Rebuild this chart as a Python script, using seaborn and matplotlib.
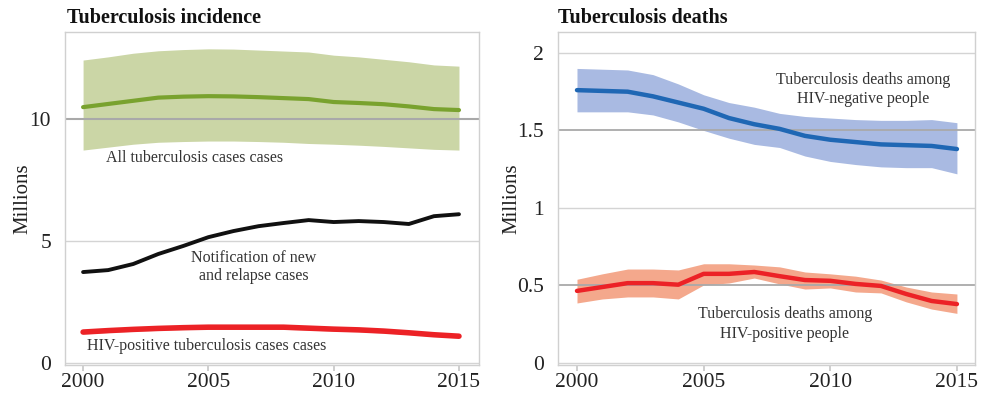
import numpy as np
import pandas as pd
import matplotlib
matplotlib.use("Agg")
import matplotlib.pyplot as plt
import seaborn as sns

years = list(range(2000, 2016))

# Incidence (millions)
all_tb = [10.49, 10.62, 10.75, 10.88, 10.92, 10.94, 10.93, 10.9, 10.86, 10.82, 10.7, 10.66, 10.61, 10.52, 10.41, 10.37]
all_tb_hi = [12.42, 12.55, 12.7, 12.8, 12.85, 12.88, 12.87, 12.83, 12.79, 12.75, 12.62, 12.55, 12.45, 12.35, 12.22, 12.17]
all_tb_lo = [8.73, 8.85, 8.97, 9.05, 9.08, 9.1, 9.1, 9.08, 9.05, 9.0, 8.97, 8.93, 8.88, 8.82, 8.76, 8.73]
notified = [3.73, 3.81, 4.06, 4.47, 4.8, 5.16, 5.41, 5.61, 5.74, 5.86, 5.78, 5.82, 5.78, 5.7, 6.02, 6.1]
hiv_tb = [1.27, 1.33, 1.38, 1.42, 1.45, 1.47, 1.47, 1.47, 1.47, 1.43, 1.39, 1.36, 1.31, 1.24, 1.16, 1.1]
hiv_tb_hi = [1.35, 1.41, 1.46, 1.5, 1.53, 1.55, 1.55, 1.55, 1.56, 1.51, 1.47, 1.44, 1.39, 1.31, 1.23, 1.17]
hiv_tb_lo = [1.19, 1.25, 1.3, 1.34, 1.37, 1.39, 1.39, 1.39, 1.38, 1.35, 1.31, 1.28, 1.23, 1.17, 1.09, 1.03]

# Deaths (millions)
neg = [1.76, 1.755, 1.75, 1.72, 1.68, 1.64, 1.58, 1.54, 1.51, 1.465, 1.44, 1.425, 1.41, 1.405, 1.40, 1.38]
neg_hi = [1.9, 1.895, 1.89, 1.86, 1.8, 1.73, 1.68, 1.65, 1.61, 1.59, 1.58, 1.57, 1.565, 1.565, 1.57, 1.55]
neg_lo = [1.62, 1.62, 1.62, 1.6, 1.555, 1.5, 1.45, 1.41, 1.39, 1.335, 1.3, 1.28, 1.265, 1.26, 1.26, 1.22]
pos = [0.465, 0.49, 0.515, 0.515, 0.505, 0.575, 0.575, 0.587, 0.56, 0.535, 0.53, 0.51, 0.497, 0.445, 0.4, 0.38]
pos_hi = [0.54, 0.575, 0.606, 0.606, 0.6, 0.64, 0.64, 0.632, 0.62, 0.587, 0.575, 0.56, 0.535, 0.49, 0.458, 0.445]
pos_lo = [0.387, 0.413, 0.426, 0.426, 0.413, 0.503, 0.516, 0.548, 0.51, 0.477, 0.484, 0.458, 0.452, 0.394, 0.348, 0.32]

xticks = [2000, 2005, 2010, 2015]
yticks_left = [0, 5, 10]
yticks_right = [0, 0.5, 1, 1.5, 2]
ytick_labels_right = ["0", "0.5", "1", "1.5", "2"]

sns.set_theme(style="white")
plt.rcParams['font.family'] = ['Liberation Serif', 'DejaVu Serif']

df = pd.DataFrame({"year": years, "all": all_tb, "notified": notified, "hiv": hiv_tb,
                   "neg": neg, "pos": pos})

fig = plt.figure(figsize=(9.81, 4.0), dpi=100)
axL = fig.add_axes([0.0663, 0.0875, 0.422, 0.8325])
axR = fig.add_axes([0.5688, 0.0875, 0.425, 0.8325])

grid_light = "#d4d4d4"
grid_dark = "#a9a9a9"
txt = "#333333"
fs_note = 11.5

def style(ax):
    for s in ax.spines.values():
        s.set_color("#d0d0d0")
        s.set_linewidth(1.0)
    ax.tick_params(axis="x", bottom=True, length=4, color="#c8c8c8", labelsize=15.5, pad=2, labelcolor="#222222")
    ax.tick_params(axis="y", left=False, labelsize=15.5, pad=4, labelcolor="#222222")
    ax.set_xlabel("")

# Left panel
axL.fill_between(years, all_tb_lo, all_tb_hi, color="#cbd6a6", lw=0, zorder=1)
axL.fill_between(years, hiv_tb_lo, hiv_tb_hi, color="#f4a99a", alpha=0.7, lw=0, zorder=1)
for y, c in [(5, grid_light), (0, grid_light)]:
    axL.axhline(y, color=c, lw=1.0, zorder=2)
axL.axhline(10, color=grid_dark, lw=1.5, zorder=2)
sns.lineplot(data=df, x="year", y="all", ax=axL, color="#79a22e", lw=3, zorder=3)
sns.lineplot(data=df, x="year", y="notified", ax=axL, color="#111111", lw=2.8, zorder=3)
sns.lineplot(data=df, x="year", y="hiv", ax=axL, color="#ec2226", lw=4, zorder=3)
axL.set_xlim(1999.28, 2015.8)
axL.set_ylim(-0.08, 13.57)
axL.set_xticks(xticks)
axL.set_yticks(yticks_left)
axL.set_ylabel("Millions", fontsize=15, color="#222222", labelpad=-2)
style(axL)
axL.text(2000.9, 8.4, "All tuberculosis cases cases", fontsize=fs_note, color=txt, va="center", ha="left")
axL.text(2006.8, 4.32, "Notification of new", fontsize=fs_note, color=txt, va="center", ha="center")
axL.text(2006.8, 3.55, "and relapse cases", fontsize=fs_note, color=txt, va="center", ha="center")
axL.text(2000.15, 0.7, "HIV-positive tuberculosis cases cases", fontsize=fs_note, color=txt, va="center", ha="left")
fig.text(0.0683, 0.955, "Tuberculosis incidence", fontsize=14.5, fontweight="bold", color="#111111", va="center", ha="left")

# Right panel
axR.fill_between(years, neg_lo, neg_hi, color="#a9bae2", lw=0, zorder=1)
axR.fill_between(years, pos_lo, pos_hi, color="#f4a88c", lw=0, zorder=1)
for y in [2, 1, 0]:
    axR.axhline(y, color=grid_light, lw=1.0, zorder=2)
for y in [1.5, 0.5]:
    axR.axhline(y, color=grid_dark, lw=1.3, zorder=2)
sns.lineplot(data=df, x="year", y="neg", ax=axR, color="#1f67b4", lw=3.2, zorder=3)
sns.lineplot(data=df, x="year", y="pos", ax=axR, color="#ec2226", lw=3.2, zorder=3)
axR.set_xlim(1999.25, 2015.71)
axR.set_ylim(-0.013, 2.135)
axR.set_xticks(xticks)
axR.set_yticks(yticks_right)
axR.set_yticklabels(ytick_labels_right)
axR.set_ylabel("Millions", fontsize=15, color="#222222", labelpad=-3)
style(axR)
axR.text(2011.3, 1.826, "Tuberculosis deaths among", fontsize=fs_note, color=txt, va="center", ha="center")
axR.text(2011.3, 1.70, "HIV-negative people", fontsize=fs_note, color=txt, va="center", ha="center")
axR.text(2008.2, 0.316, "Tuberculosis deaths among", fontsize=fs_note, color=txt, va="center", ha="center")
axR.text(2008.2, 0.19, "HIV-positive people", fontsize=fs_note, color=txt, va="center", ha="center")
fig.text(0.5688, 0.955, "Tuberculosis deaths", fontsize=14.5, fontweight="bold", color="#111111", va="center", ha="left")

fig.savefig("out.png", dpi=100)
